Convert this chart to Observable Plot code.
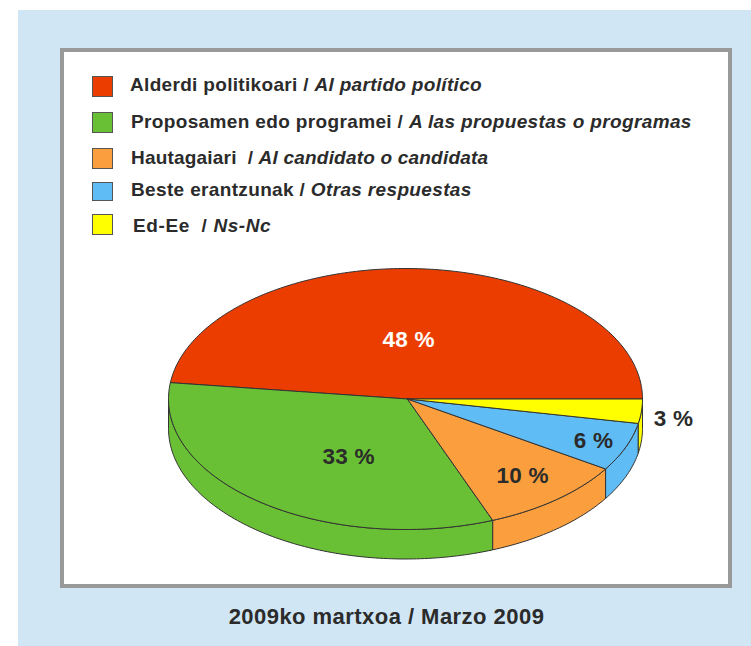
<!DOCTYPE html>
<html lang="eu">
<head>
<meta charset="utf-8">
<script src="https://cdn.jsdelivr.net/npm/d3@7"></script>
<script src="https://cdn.jsdelivr.net/npm/@observablehq/plot@0.6"></script>
<style>
  html, body { margin: 0; padding: 0; background: #fff; }
  #page { position: relative; width: 751px; height: 646px; overflow: hidden; font-family: "Liberation Sans", Arial, sans-serif; color: #2b2b2b; font-weight: bold; }
  #bg { position: absolute; left: 18px; top: 10px; right: 0; bottom: 0; background: #d0e6f5; }
  #panel { position: absolute; left: 60px; top: 48px; width: 664px; height: 532px; background: #fff; border: 4px solid #999; }
  #chart { position: absolute; left: 0; top: 0; }
  #chart svg { background: transparent; display: block; }
  #chart text { letter-spacing: 0.2px; }
  .sw { position: absolute; left: 92px; width: 21px; box-sizing: border-box; border: 1px solid #555; }
  .lab { position: absolute; font-size: 19px; line-height: 20px; white-space: pre; }
  .lab i { font-style: italic; }
  #caption { position: absolute; left: 18px; right: 0; top: 605px; text-align: center; font-size: 22px; line-height: 24px; letter-spacing: 0.46px; padding-left: 4px; }
</style>
</head>
<body>
<div id="page">
  <div id="bg"></div>
  <div id="panel"></div>
  <div id="chart"></div>
  <div id="legend"></div>
  <div id="caption">2009ko martxoa / Marzo 2009</div>
</div>
<script>
// Data
const categories = ["Alderdi", "Proposamen", "Hautagaiak", "Beste", "EdEe"];
const values = [48, 33, 10, 6, 3];
const valueLabels = ["48 %", "33 %", "10 %", "6 %", "3 %"];
const basqueLabels = ["Alderdi politikoari / ", "Proposamen edo programei / ", "Hautagaiari  / ", "Beste erantzunak / ", "Ed-Ee  / "];
const spanishLabels = ["Al partido político", "A las propuestas o programas", "Al candidato o candidata", "Otras respuestas", "Ns-Nc"];

// Styling and annotation placement
const colours = ["#ec3d00", "#69c034", "#fb9f3e", "#5fbcf5", "#ffff00"];
const labelColours = ["#fff", "#2b2b2b", "#2b2b2b", "#2b2b2b", "#2b2b2b"];
const labelX = [0.013, -0.24, 0.494, 0.793, 1.131];
const labelY = [0.454, -0.446, -0.585, -0.323, -0.154];
const legendTop = [76, 112, 148, 182, 214];
const legendHeight = [21, 21, 21, 19, 21];
const legendTextX = [130, 131, 131, 131, 133];
const legendTextY = [75, 112, 148, 180, 216];
const legendSpacing = [0.32, 0.36, 0.2, 0.35, 0.6];

// Pie geometry: 0 degrees is due east, angles grow clockwise on screen. The
// slices are laid out anticlockwise from the eastern seam, in category order.
const total = d3.sum(values);
const depth = 0.226;
const apexX = 0.008;
const toRad = Math.PI / 180;
const slices = [];
let cursor = 360;
categories.forEach((name, i) => {
  const a1 = cursor, a0 = cursor - values[i] / total * 360;
  slices.push({name, a0, a1});
  cursor = a0;
});
const rimPoint = (deg, drop) => ({x: Math.cos(deg * toRad), y: -Math.sin(deg * toRad) - drop});
const arc = (a0, a1) => {
  const n = Math.max(2, Math.ceil(Math.abs(a1 - a0)));
  return d3.range(n + 1).map((k) => a0 + (a1 - a0) * k / n);
};
const topRows = slices.flatMap((s) => {
  const pts = [{x: apexX, y: 0}, ...arc(s.a0, s.a1).map((d) => rimPoint(d, 0)), {x: apexX, y: 0}];
  return pts.map((p) => ({...p, name: s.name}));
});
// Front wall: only the part of each slice's rim that faces the viewer (0..180)
const wallRows = [];
slices.forEach((s) => {
  const a0 = Math.max(s.a0, 0), a1 = Math.min(s.a1, 180);
  if (a1 <= a0) return;
  const upper = arc(a0, a1).map((d) => rimPoint(d, 0));
  const lower = arc(a1, a0).map((d) => rimPoint(d, depth));
  [...upper, ...lower, upper[0]].forEach((p) => wallRows.push({...p, name: s.name}));
});
const labels = categories.map((name, i) => ({x: labelX[i], y: labelY[i], text: valueLabels[i], fill: labelColours[i]}));

const line = (rows) => Plot.line(rows, {
  x: "x", y: "y", z: "name", fill: "name",
  stroke: "#333", strokeWidth: 1, strokeLinejoin: "round", curve: "linear"
});

const chart = Plot.plot({
  width: 751,
  height: 646,
  margin: 0,
  style: {background: "transparent"},
  x: {domain: [-1, 1], range: [168, 642], axis: null},
  y: {domain: [-1, 1], range: [529, 268], axis: null},
  color: {domain: categories, range: colours},
  marks: [
    line(wallRows),
    line(topRows),
    Plot.text(labels, {
      x: "x", y: "y", text: "text", fill: (d) => d.fill,
      fontFamily: "Liberation Sans, Arial, sans-serif",
      fontWeight: "bold", fontSize: 22.5
    })
  ]
});
document.getElementById("chart").append(chart);

// Legend
const legend = document.getElementById("legend");
categories.forEach((name, i) => {
  const sw = document.createElement("div");
  sw.className = "sw";
  sw.style.top = legendTop[i] + "px";
  sw.style.height = legendHeight[i] + "px";
  sw.style.background = colours[i];
  legend.append(sw);
  const t = document.createElement("div");
  t.className = "lab";
  t.style.left = legendTextX[i] + "px";
  t.style.top = legendTextY[i] + "px";
  t.style.letterSpacing = legendSpacing[i] + "px";
  t.append(basqueLabels[i]);
  const it = document.createElement("i");
  it.textContent = spanishLabels[i];
  t.append(it);
  legend.append(t);
});
</script>
</body>
</html>
